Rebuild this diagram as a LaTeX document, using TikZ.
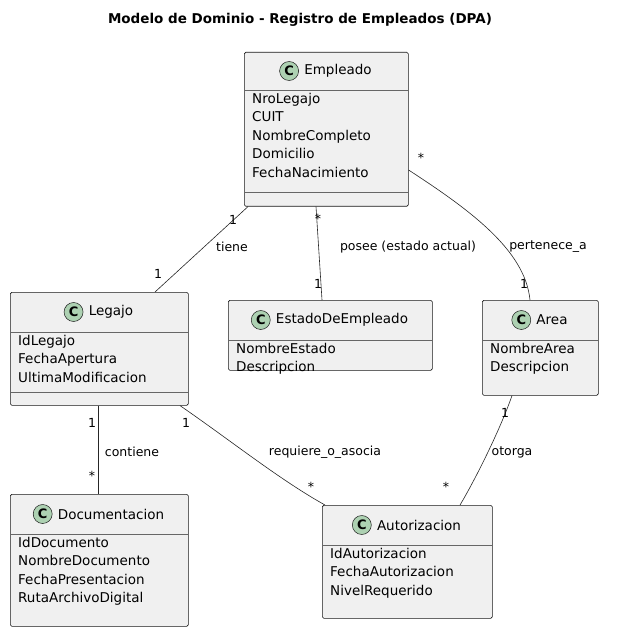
\documentclass[tikz,border=0pt]{standalone}
\usepackage{fontspec}
\setmainfont{DejaVu Sans}
\definecolor{cg}{HTML}{ADD1B2}
\begin{document}
\begin{tikzpicture}[x=1pt,y=-1pt,
  box/.style={draw=black!90,fill=black!6,line width=0.6pt,inner sep=0,rounded corners=1.5pt},
  cc/.style={circle,draw=black!90,fill=cg,line width=0.5pt,inner sep=0,minimum size=19pt,font=\bfseries\fontsize{13}{13}\selectfont},
  cname/.style={font=\fontsize{13.5}{15}\selectfont,inner sep=0},
  attr/.style={anchor=north west,align=left,font=\fontsize{13.5}{18.5}\selectfont,inner sep=0},
  lab/.style={font=\fontsize{12.5}{14}\selectfont,inner sep=1pt},
  edge/.style={draw=black!85,line width=0.6pt}]
\useasboundingbox (0,0) rectangle (636,644);
\node[font=\bfseries\fontsize{13.5}{15}\selectfont] (title) at (300,20) {Modelo de Dominio - Registro de Empleados (DPA)};
\newcommand{\umlc}[9]{%
  \node[box,minimum width={#4-#2},minimum height={#5-#3},anchor=north west] (#1) at (#2,#3) {};
  \draw[black!60,line width=0.6pt] (#2,#6) -- (#4,#6);
  \ifx&#7&\else\draw[black!60,line width=0.6pt] (#2,#7) -- (#4,#7);\fi
  \node[cname] (#1t) at ({(#2+#4)/2+12},{(#3+#6)/2}) {#8};
  \node[cc] (#1c) at ([xshift=-15pt]#1t.west) {C};
  \node[attr] (#1a) at ({#2+8},{#6+3}) {#9};
}
\umlc{emp}{244}{52}{408}{206}{90}{192}{Empleado}{NroLegajo\\CUIT\\NombreCompleto\\Domicilio\\FechaNacimiento}
\umlc{leg}{10}{292}{188}{405}{332}{392}{Legajo}{IdLegajo\\FechaApertura\\UltimaModificacion}
\umlc{est}{228}{300}{432}{370}{340}{}{EstadoDeEmpleado}{NombreEstado\\Descripcion}
\umlc{area}{482}{300}{598}{395}{340}{}{Area}{NombreArea\\Descripcion}
\umlc{doc}{10}{494}{188}{626}{534}{}{Documentacion}{IdDocumento\\NombreDocumento\\FechaPresentacion\\RutaArchivoDigital}
\umlc{aut}{322}{505}{492}{618}{545}{}{Autorizacion}{IdAutorizacion\\FechaAutorizacion\\NivelRequerido}
\draw[edge] (emp.south west) ++(4,0) -- (leg.north -| 155,0);
\draw[edge] (emp.south -| 316,0) -- (est.north -| 322,0);
\draw[edge] (emp.east |- 0,170) .. controls (470,210) and (525,250) .. (area.north -| 530,0);
\draw[edge] (leg.south -| 98,0) -- (doc.north -| 98,0);
\draw[edge] (leg.south -| 180,0) .. controls (230,440) and (280,480) .. (aut.north -| 325,0);
\draw[edge] (area.south -| 512,0) .. controls (500,430) and (475,480) .. (aut.north -| 460,0);
\node[lab] (l1) at (233,220) {1};
\node[lab] (l2) at (232,247) {tiene};
\node[lab] (l3) at (158,274) {1};
\node[lab] (l4) at (318,219) {*};
\node[lab] (l5) at (408,247) {posee (estado actual)};
\node[lab] (l6) at (318,284) {1};
\node[lab] (l7) at (421,158) {*};
\node[lab] (l8) at (548,247) {pertenece\_a};
\node[lab] (l9) at (524,284) {1};
\node[lab] (l10) at (92,423) {1};
\node[lab] (l11) at (132,452) {contiene};
\node[lab] (l12) at (92,476) {*};
\node[lab] (l13) at (186,423) {1};
\node[lab] (l14) at (325,452) {requiere\_o\_asocia};
\node[lab] (l15) at (311,487) {*};
\node[lab] (l16) at (505,413) {1};
\node[lab] (l17) at (512,452) {otorga};
\node[lab] (l18) at (446,487) {*};
\end{tikzpicture}
\end{document}
